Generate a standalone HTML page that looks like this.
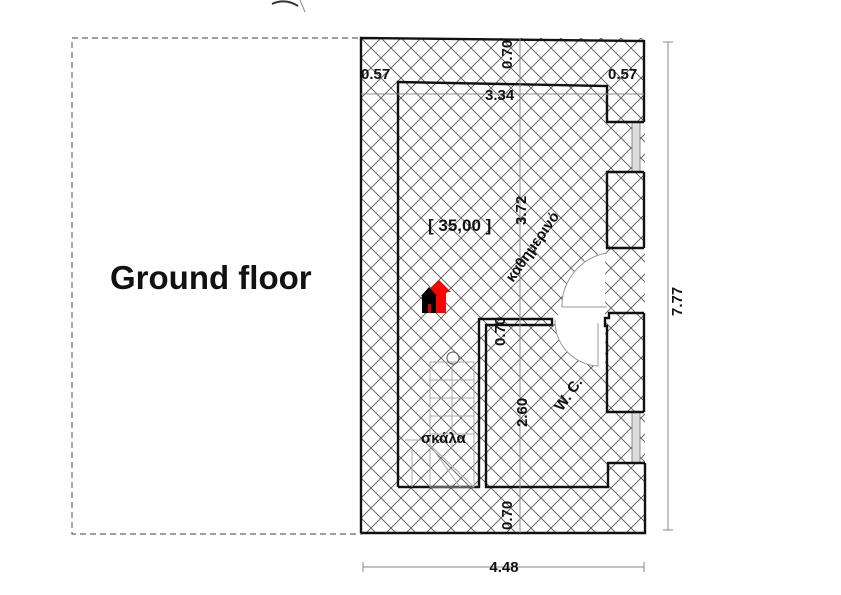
<!DOCTYPE html>
<html><head><meta charset="utf-8"><style>
html,body{margin:0;padding:0;background:#fff;}
svg{display:block;}
text{font-family:"Liberation Sans",sans-serif;font-weight:bold;fill:#111;}
</style></head><body>
<svg width="841" height="595" viewBox="0 0 841 595" xmlns="http://www.w3.org/2000/svg">
<defs>
<pattern id="h" width="20" height="20" patternUnits="userSpaceOnUse" x="361" y="38">
<path d="M0 0L20 20M20 0L0 20" stroke="#555" stroke-width="0.9" fill="none"/>
</pattern>
</defs>
<rect x="72" y="38" width="289" height="496" fill="none" stroke="#666" stroke-width="1.2" stroke-dasharray="6,4"/>
<path d="M272 4 Q285 -2 298 6" stroke="#333" stroke-width="2" fill="none"/>
<path d="M300 0 L305 12" stroke="#888" stroke-width="1" fill="none"/>
<rect x="361" y="38" width="284" height="495" fill="url(#h)"/>
<path d="M607 252 A55 55 0 0 0 562 307 L555 320 A45 45 0 0 0 600 366 L605 366 L605 252 Z" fill="#fff"/>
<path d="M607 253 A54 54 0 0 0 562 307 L607 307" stroke="#999" stroke-width="1" fill="none"/>
<path d="M555 320 A45 45 0 0 0 598 366 L598 323" stroke="#999" stroke-width="1" fill="none"/>
<rect x="632" y="122" width="8" height="50" fill="#ddd" stroke="#888" stroke-width="1"/>
<rect x="632" y="412" width="8" height="51" fill="#ddd" stroke="#888" stroke-width="1"/>
<g stroke="#111" stroke-width="2.4" fill="none">
<path d="M361 533 L361 38 L644 41 L644 122"/>
<path d="M644 172 L644 248 M644 313 L644 412"/>
<path d="M645 463 L645 533 L361 533"/>
<path d="M398 487 L398 82 L607 86 L607 122 L644 122"/>
<path d="M644 172 L607 172 L607 248 L644 248"/>
<path d="M644 313 L609 313 L609 318 L605 318 L605 326 L607 326 L607 412 L644 412"/>
<path d="M645 463 L608 463 L608 487 L486 487 L486 325 L552 325 L552 319 L479 319 L479 487 L398 487"/>
</g>
<g stroke="#888" stroke-width="1" fill="none">
<line x1="520" y1="38" x2="520" y2="533"/>
<line x1="361" y1="94" x2="644" y2="94"/>
<line x1="668" y1="42" x2="668" y2="530"/>
<line x1="663" y1="42" x2="673" y2="42"/>
<line x1="663" y1="530" x2="673" y2="530"/>
<line x1="363" y1="567" x2="644" y2="567"/>
<line x1="363" y1="562" x2="363" y2="572"/>
<line x1="644" y1="562" x2="644" y2="572"/>
</g>
<g stroke="#aaa" stroke-width="1" fill="none">
<rect x="430" y="362" width="44" height="125"/>
<line x1="430" y1="380" x2="474" y2="380"/><line x1="430" y1="398" x2="474" y2="398"/>
<line x1="430" y1="416" x2="474" y2="416"/><line x1="430" y1="434" x2="474" y2="434"/>
<line x1="452" y1="362" x2="452" y2="450"/>
<line x1="405" y1="440" x2="430" y2="440"/><line x1="412" y1="450" x2="412" y2="487"/>
<line x1="430" y1="445" x2="474" y2="487"/><line x1="430" y1="445" x2="460" y2="487"/>
</g>
<circle cx="453" cy="358" r="6" fill="none" stroke="#555" stroke-width="1"/>
<path d="M439 280 L451 292 L446 292 L446 313 L432 313 L432 292 L427 292 Z" fill="#f00"/>
<path d="M429 287 L437 296 L436 296 L436 313 L422 313 L422 296 L421 296 Z" fill="#000"/>
<rect x="428" y="304" width="3" height="9" fill="#d00"/>
<text x="110" y="289" font-size="33">Ground floor</text>
<text x="361" y="79" font-size="15">0.57</text>
<text x="608" y="79" font-size="15">0.57</text>
<text x="485" y="100" font-size="15">3.34</text>
<text x="428" y="231" font-size="17">[ 35,00 ]</text>
<text x="421" y="443" font-size="15" font-weight="normal">σκάλα</text>
<text x="504" y="572" font-size="15" text-anchor="middle">4.48</text>
<text font-size="15" transform="translate(512,69) rotate(-90)">0.70</text>
<text font-size="15" transform="translate(526,225) rotate(-90)">3.72</text>
<text font-size="15" transform="translate(505,346) rotate(-90)">0.70</text>
<text font-size="15" transform="translate(527,427) rotate(-90)">2.60</text>
<text font-size="15" transform="translate(512,530) rotate(-90)">0.70</text>
<text font-size="15" transform="translate(682,316) rotate(-90)">7.77</text>
<text font-size="15" font-weight="normal" transform="translate(513,283) rotate(-55)">καθημερινό</text>
<text font-size="15" font-weight="normal" transform="translate(562,412) rotate(-55)">W. C.</text>
</svg>
</body></html>
